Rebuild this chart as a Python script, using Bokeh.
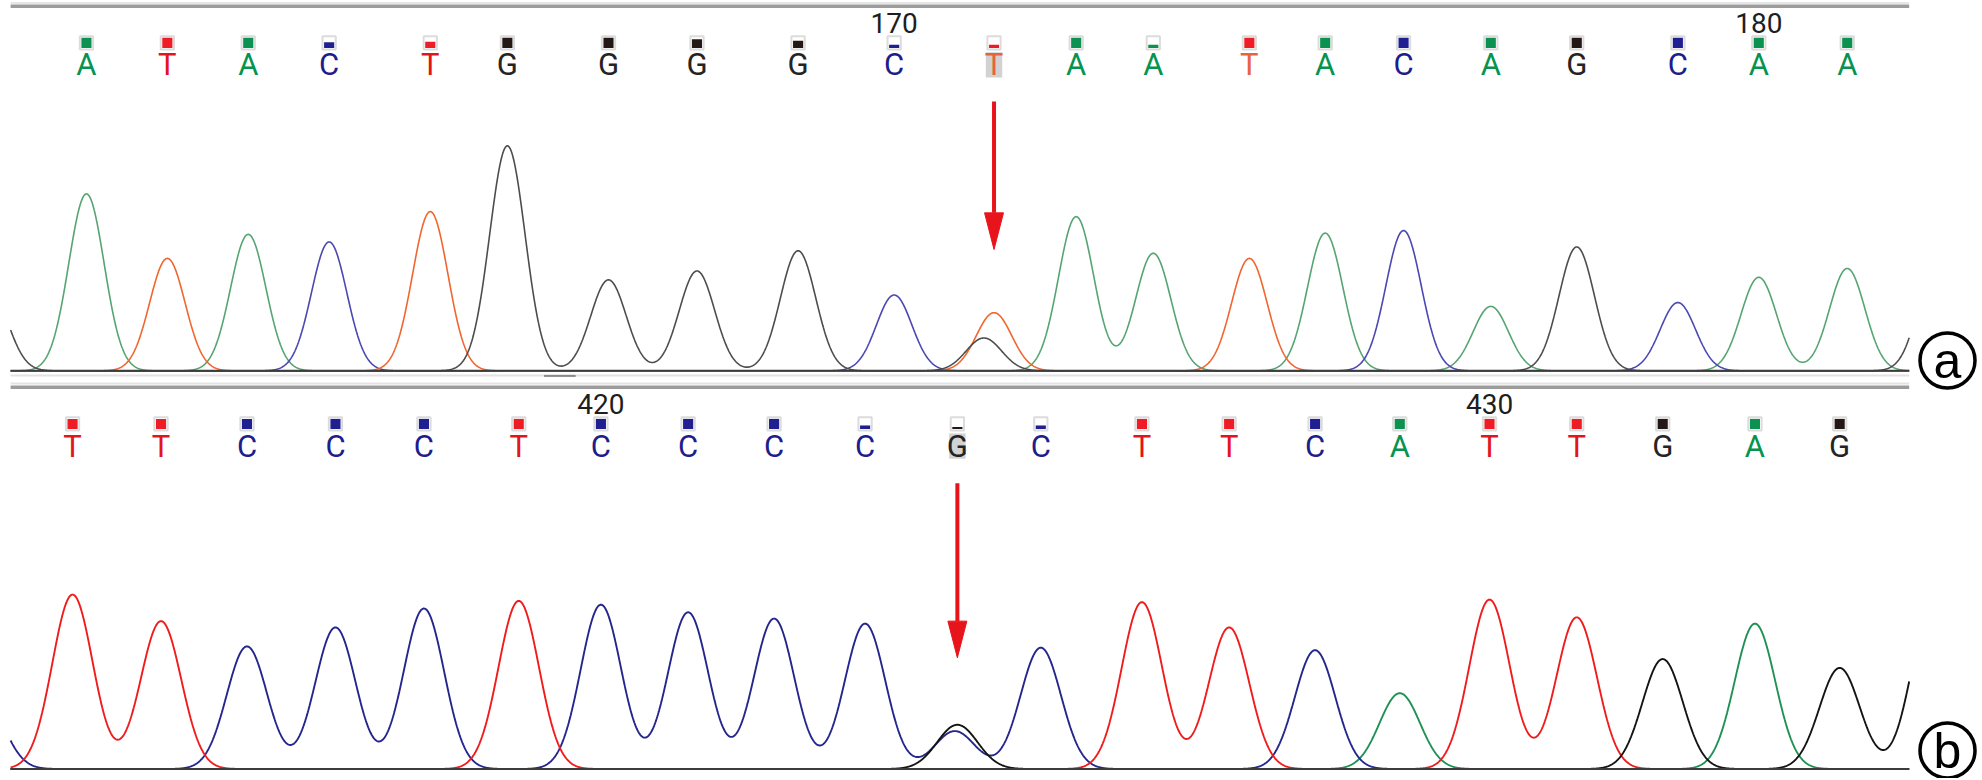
import numpy as np
from bokeh.plotting import figure
from bokeh.models import Range1d, ColumnDataSource
from bokeh.core.properties import value
from bokeh.embed import file_html
from bokeh.resources import INLINE

# ---------------- data (scan positions, peak heights) -------------
# Panel a: bases 161-181
a_bases = list("ATACTGGGGCTAATACAGCAA")
a_start = 161
a_scan = [68, 132, 196, 260, 340, 401, 481, 551, 631, 707, 786, 851, 912, 988, 1048, 1110, 1179, 1247, 1327, 1391, 1461]
a_height = [140, 89, 108, 102, 126, 178, 72, 79, 95, 60, 46, 122, 93, 89, 109, 111, 51, 98, 54, 74, 81]
a_qual = [1, 1, 1, 0.55, 0.6, 1, 1, 0.85, 0.7, 0.3, 0.3, 1, 0.3, 1, 1, 1, 1, 1, 1, 1, 1]
a_extra_base = ["G", "G", "G"]
a_extra_scan = [-8, 778, 1532]
a_extra_height = [62, 26, 90]
a_mut_index = 10
a_ticks = [170, 180]
a_orange_letters = [10, 13]

# Panel b: bases 414-434
b_bases = list("TTCCCTCCCCGCTTCATTGAG")
b_start = 414
b_scan = [57, 127, 195, 265, 335, 410, 475, 544, 612, 684, 757, 823, 903, 972, 1040, 1107, 1178, 1247, 1315, 1388, 1455]
b_height = [138, 117, 97, 112, 127, 133, 130, 124, 119, 115, 35, 96, 132, 112, 94, 60, 134, 120, 87, 115, 80]
b_qual = [1, 1, 1, 1, 1, 1, 1, 1, 1, 0.35, 0.2, 0.35, 1, 1, 1, 1, 1, 1, 1, 1, 1]
b_extra_base = ["C", "C", "G"]
b_extra_scan = [-14, 755, 1528]
b_extra_height = [58, 30, 130]
b_mut_index = 10
b_ticks = [420, 430]

# ---------------- styles ----------------
K = 1982 / 1568.0          # page px per scan unit
W, H = 1980, 778
X0, X1 = 0.0, W / K
A_BASE, B_BASE = 293.0, 608.0   # baseline rows (scan units from top)
A_TOPLINE, B_TOPLINE = 4.5, 306.0
TOP, BOT = 0.0, H / K

trace_a = {"A": "#55a472", "C": "#4a48b2", "G": "#4d4d4d", "T": "#f0662e"}
trace_b = {"A": "#1f9155", "C": "#25258e", "G": "#141414", "T": "#f01c1c"}
letter_col = {"A": "#05934f", "C": "#1d1d8c", "G": "#242424", "T": "#e3141c"}
square_col = {"A": "#0b9150", "C": "#1f1f92", "G": "#231815", "T": "#ee1c25"}
FONT = "Roboto"

p = figure(width=W, height=H, x_range=Range1d(X0, X1),
           y_range=Range1d(A_BASE - BOT, A_BASE - TOP),
           output_backend="svg", toolbar_location=None, min_border=0,
           x_axis_location=None, y_axis_location=None)
p.extra_y_ranges = {"b": Range1d(B_BASE - BOT, B_BASE - TOP)}
p.grid.visible = False
p.outline_line_color = None
p.background_fill_color = "white"

xs = np.arange(8, 1510.5, 0.5)


def channel_traces(bases, scan, height, eb, es, eh, sigma):
    out = {}
    allb = list(bases) + list(eb)
    alls = list(scan) + list(es)
    allh = list(height) + list(eh)
    for ch in "ACGT":
        y = np.zeros_like(xs)
        for b, s, h in zip(allb, alls, allh):
            if b == ch:
                y += h * np.exp(-((xs - s) ** 2) / (2 * sigma ** 2))
        out[ch] = y
    return out


def panel(bases, start, scan, height, qual, eb, es, eh, mut, ticks, base_row,
          top_line, rng, tcols, sigma, lw, orange=()):
    yr = {} if rng is None else {"y_range_name": rng}
    tr = channel_traces(bases, scan, height, eb, es, eh, sigma)
    for ch in ["A", "C", "T", "G"]:
        p.line(xs, tr[ch], line_color=tcols[ch], line_width=lw, **yr)
    # baseline
    p.line([8, 1510], [0, 0], line_color="#3c3c3c", line_width=2, **yr)

    num_y = base_row - (top_line + 13.5)
    sq_y = base_row - (top_line + 29)
    let_y = base_row - (top_line + 46.5)

    # mutation highlight
    p.rect([scan[mut]], [let_y], width=13, height=20, fill_color="#d2d2d2",
           line_color=None, **yr)

    # quality squares
    S = 8.0
    p.rect(scan, [sq_y] * len(scan), width=S + 2.5, height=S + 2.5,
           fill_color="white", line_color="#dcdcdc", line_width=2, **yr)
    inner_h = [S * q for q in qual]
    inner_y = [sq_y - S / 2 + h / 2 for h in inner_h]
    p.rect(scan, inner_y, width=S, height=inner_h,
           fill_color=[square_col[b] for b in bases], line_color=None, **yr)

    # base letters
    lcols = [("#e8623e" if i in orange else letter_col[b]) for i, b in enumerate(bases)]
    src = ColumnDataSource(dict(x=scan, y=[let_y] * len(scan), t=bases, c=lcols))
    p.text("x", "y", text="t", source=src, text_color="c", text_align="center",
           text_baseline="middle", text_font=value(FONT), text_font_size="31px", **yr)

    # position numbers
    tx = [scan[t - start] for t in ticks]
    p.text(tx, [num_y] * len(tx), text=[str(t) for t in ticks], text_color="#1e1e1e",
           text_align="center", text_baseline="middle", text_font=value(FONT),
           text_font_size="28px", **yr)
    return tr


# Panel a
panel(a_bases, a_start, a_scan, a_height, a_qual, a_extra_base, a_extra_scan,
      a_extra_height, a_mut_index, a_ticks, A_BASE, A_TOPLINE, None, trace_a, 14.0, 1.6,
      a_orange_letters)
# Panel b
panel(b_bases, b_start, b_scan, b_height, b_qual, b_extra_base, b_extra_scan,
      b_extra_height, b_mut_index, b_ticks, B_BASE, B_TOPLINE, "b", trace_b, 16.0, 1.9)

# frame lines of panel a
p.line([8, 1510], [A_BASE - 2.0, A_BASE - 2.0], line_color="#e6e6e6", line_width=2)
p.line([8, 1510], [A_BASE - A_TOPLINE, A_BASE - A_TOPLINE], line_color="#9c9c9c", line_width=3.5)
p.line([8, 1510], [-3.6, -3.6], line_color="#e2e2e2", line_width=2)
p.line([430, 455], [-4.0, -4.0], line_color="#8a8a8a", line_width=2)
# separator between panels
p.line([8, 1510], [-10.0, -10.0], line_color="#e4e4e4", line_width=2)
p.line([8, 1510], [A_BASE - B_TOPLINE, A_BASE - B_TOPLINE], line_color="#9c9c9c", line_width=3.5)


# arrows
def arrow(x, y0, y1, rng):
    yr = {} if rng is None else {"y_range_name": rng}
    hb = y1 + 29
    p.line([x, x], [y0, hb], line_color="#e8141c", line_width=4, **yr)
    p.patch([x - 7.5, x + 7.5, x], [hb, hb, y1], fill_color="#e8141c",
            line_color="#e8141c", line_width=1, **yr)


arrow(a_scan[a_mut_index], 213, 96, None)
arrow(b_scan[b_mut_index], 226, 88, "b")

# panel labels
cx = 1947 / K
ya = A_BASE - 360 / K
yb = B_BASE - 750 / K
p.scatter([cx], [ya], marker="circle", size=55, fill_color=None,
          line_color="black", line_width=3.5)
p.text([cx], [ya], text=["a"], text_align="center",
       text_baseline="middle", text_font=value("Liberation Sans"),
       text_font_size="50px", text_color="black")
p.scatter([cx], [yb], marker="circle", size=55, fill_color=None,
          line_color="black", line_width=3.5, y_range_name="b")
p.text([cx], [yb], text=["b"], text_align="center",
       text_baseline="middle", text_font=value("Liberation Sans"),
       text_font_size="50px", text_color="black", y_range_name="b")

open("out.html", "w").write(file_html(p, INLINE))
